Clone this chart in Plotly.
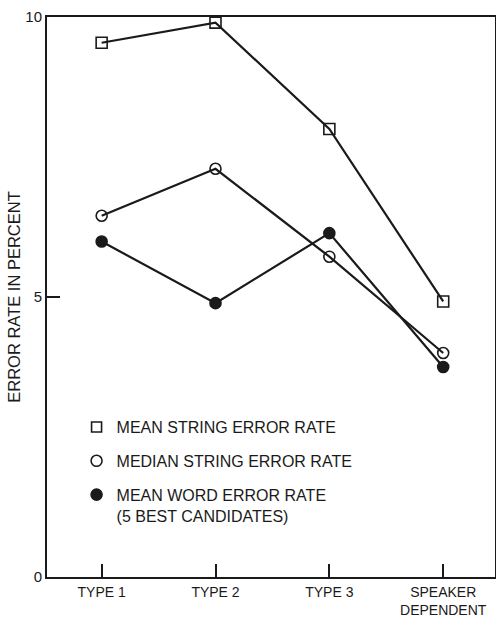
import plotly.graph_objects as go

# Recognizer conditions along the x axis
categories = ["TYPE 1", "TYPE 2", "TYPE 3", "SPEAKER<br>DEPENDENT"]

# Error rates in percent
mean_string_error = [9.54, 9.90, 8.00, 4.92]
median_string_error = [6.45, 7.29, 5.72, 4.00]
mean_word_error = [5.99, 4.89, 6.14, 3.75]

y_tick_vals = [0, 5, 10]
y_tick_text = ["0", "5", "10"]

FONT = "Liberation Sans, Arial, sans-serif"
INK = "#1a1a1a"

series = [
    ("MEAN STRING ERROR RATE", mean_string_error, "square-open"),
    ("MEDIAN STRING ERROR RATE", median_string_error, "circle-open"),
    ("MEAN WORD ERROR RATE<br>(5 BEST CANDIDATES)", mean_word_error, "circle"),
]

x_pos = list(range(len(categories)))

fig = go.Figure()
for i, (name, values, symbol) in enumerate(series):
    # the plotted series
    fig.add_trace(go.Scatter(
        x=x_pos, y=values, mode="lines+markers", name=name,
        legendgroup=f"g{i}", showlegend=False,
        line=dict(color=INK, width=2.2),
        marker=dict(symbol=symbol, size=11, color=INK,
                    line=dict(color=INK, width=1.6)),
    ))
    # key entry showing only the symbol
    fig.add_trace(go.Scatter(
        x=[None], y=[None], mode="markers", name=name,
        legendgroup=f"g{i}", showlegend=True,
        marker=dict(symbol=symbol, size=11 if symbol != "square-open" else 10,
                    color=INK, line=dict(color=INK, width=1.6)),
    ))

fig.update_layout(
    width=496, height=619,
    margin=dict(l=47, r=1, t=17, b=42),
    paper_bgcolor="white", plot_bgcolor="white",
    font=dict(family=FONT, size=15, color=INK),
    showlegend=True,
    legend=dict(
        x=0.066, y=0.298, xanchor="left", yanchor="top",
        bgcolor="rgba(0,0,0,0)", borderwidth=0,
        font=dict(family=FONT, size=16, color=INK),
        traceorder="grouped", tracegroupgap=10, valign="top",
        itemwidth=30,
    ),
    xaxis=dict(
        range=[-0.48, 3.455],
        tickvals=x_pos, ticktext=categories,
        ticks="inside", ticklen=13, tickwidth=1.5, tickcolor=INK,
        showline=True, linecolor=INK, linewidth=2, mirror=True,
        showgrid=False, zeroline=False, automargin=False,
        ticklabelstandoff=1,
        tickfont=dict(family=FONT, size=14, color=INK),
    ),
    yaxis=dict(
        range=[0, 10],
        tickvals=y_tick_vals, ticktext=y_tick_text,
        ticks="inside", ticklen=13, tickwidth=1.5, tickcolor=INK,
        showline=True, linecolor=INK, linewidth=2, mirror=True,
        showgrid=False, zeroline=False, automargin=False,
        tickfont=dict(family=FONT, size=15, color=INK),
        title=dict(text="ERROR RATE IN PERCENT", standoff=1,
                   font=dict(family=FONT, size=16.5, color=INK)),
    ),
)

fig.write_html("out.html")
